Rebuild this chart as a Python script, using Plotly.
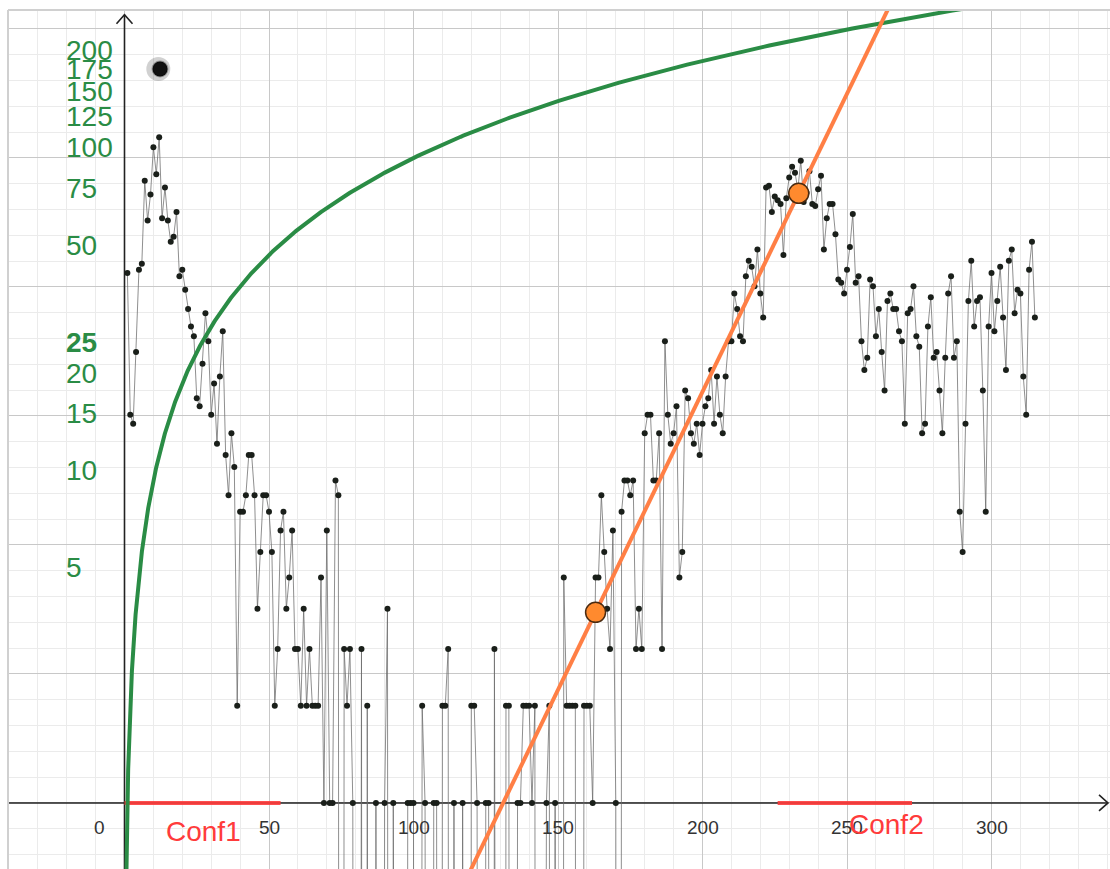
import numpy as np
import plotly.graph_objects as go

# ---------------- data ----------------
cases = [
    44, 16, 15, 25, 45, 47, 85, 64, 77, 108, 89, 116, 65, 81, 64, 55, 57, 68, 43, 45,
    39, 34, 30, 28, 18, 17, 23, 33, 27, 16, 20, 13, 21, 29, 12, 9, 14, 11, 2, 8,
    8, 9, 12, 12, 9, 4, 6, 9, 9, 8, 6, 2, 3, 7, 8, 4, 5, 7, 3, 3,
    2, 4, 2, 3, 2, 2, 2, 5, 1, 7, 1, 1, 10, 9, 0, 3, 2, 3, 1, 0,
    0, 3, 0, 2, 0, 0, 1, 0, 0, 1, 4, 0, 1, 0, 0, 0, 0, 1, 1, 1,
    0, 0, 2, 1, 0, 0, 1, 1, 0, 2, 2, 3, 0, 1, 0, 0, 1, 0, 0, 2,
    2, 1, 0, 0, 1, 1, 0, 3, 0, 0, 0, 2, 2, 0, 0, 1, 1, 2, 2, 2,
    1, 2, 0, 0, 0, 1, 2, 0, 1, 0, 0, 5, 2, 2, 2, 2, 0, 0, 2, 2,
    2, 1, 5, 5, 9, 6, 4, 3, 7, 1, 0, 8, 10, 10, 9, 10, 3, 4, 3, 14,
    16, 16, 10, 10, 14, 3, 27, 16, 13, 14, 17, 5, 6, 19, 18, 14, 13, 15, 12, 15,
    17, 18, 22, 15, 21, 16, 14, 21, 27, 27, 38, 34, 28, 27, 43, 48, 46, 40, 52, 38,
    32, 81, 82, 68, 76, 74, 72, 50, 75, 87, 94, 90, 80, 98, 73, 78, 91, 72, 71, 80,
    88, 52, 65, 72, 72, 58, 42, 41, 38, 45, 53, 67, 41, 43, 27, 22, 24, 42, 40, 28,
    34, 25, 19, 36, 38, 34, 34, 29, 27, 15, 33, 34, 40, 28, 26, 14, 15, 30, 37, 24,
    25, 19, 14, 24, 38, 43, 24, 27, 8, 6, 15, 36, 48, 30, 36, 37, 19, 8, 30, 44,
    29, 36, 46, 32, 22, 48, 52, 33, 39, 38, 21, 16, 45, 55, 32,
]
days = list(range(1, len(cases) + 1))

# y-axis labels (count values shown on the log-like scale)
ylabel_values = [200, 175, 150, 125, 100, 75, 50, 25, 20, 15, 10, 5]
xtick_values = [50, 100, 150, 200, 250, 300]

# orange fitted points (day, count)
fit_days = [163.0, 233.3]
fit_counts = [3.9, 77.7]

# confinement periods (day start, day end)
conf_names = ["Conf1", "Conf2"]
conf_start = [0, 226]
conf_end = [54, 272.5]

# slider point
slider_x = [12.3]
slider_u = [5.69]

SCALE = 2.5  # y = 2.5*log10(count)


def to_u(v):
    v = np.asarray(v, dtype=float)
    out = np.full(v.shape, -30.0)
    pos = v > 0
    out[pos] = SCALE * np.log10(v[pos])
    return out


X0, X1 = -40.31, 341.0
Y0, Y1 = -0.512, 6.147

fig = go.Figure()

GREEN = "#2a8c45"
ORANGE = "#ff7f45"
RED = "#ff3b3b"

# axes (as traces)
fig.add_trace(go.Scatter(x=[X0, 340.3], y=[0, 0], mode="lines",
                         line=dict(color="#222", width=1.6), hoverinfo="skip", showlegend=False))
fig.add_trace(go.Scatter(x=[337.2, 340.3, 337.2], y=[0.062, 0, -0.062], mode="lines",
                         line=dict(color="#222", width=1.6), hoverinfo="skip", showlegend=False))
fig.add_trace(go.Scatter(x=[0, 0], y=[Y0, 6.11], mode="lines",
                         line=dict(color="#222", width=1.6), hoverinfo="skip", showlegend=False))
fig.add_trace(go.Scatter(x=[-2.77, 0, 2.77], y=[6.04, 6.11, 6.04], mode="lines",
                         line=dict(color="#222", width=1.6), hoverinfo="skip", showlegend=False))

# confinement segments
for s, e in zip(conf_start, conf_end):
    fig.add_trace(go.Scatter(x=[s, e], y=[0, 0], mode="lines",
                             line=dict(color=RED, width=4), opacity=0.9,
                             hoverinfo="skip", showlegend=False))

# data
fig.add_trace(go.Scatter(x=days, y=to_u(cases), mode="lines+markers",
                         line=dict(color="rgba(105,105,105,0.75)", width=1),
                         marker=dict(color="#1a1f1a", size=6),
                         showlegend=False))

# green log curve
gx = np.geomspace(0.004, X1, 1500)
fig.add_trace(go.Scatter(x=gx, y=SCALE * np.log10(gx), mode="lines",
                         line=dict(color=GREEN, width=4), hoverinfo="skip", showlegend=False))

# orange line through the two fit points
fu = to_u(fit_counts)
slope = (fu[1] - fu[0]) / (fit_days[1] - fit_days[0])
lx = np.array([X0, X1])
fig.add_trace(go.Scatter(x=lx, y=fu[0] + slope * (lx - fit_days[0]), mode="lines",
                         line=dict(color=ORANGE, width=4), hoverinfo="skip", showlegend=False))
fig.add_trace(go.Scatter(x=fit_days, y=fu, mode="markers",
                         marker=dict(color="#ff8a2e", size=20, line=dict(color="#4a2a10", width=1.5)),
                         showlegend=False))

# slider point (blurred)
fig.add_trace(go.Scatter(x=[slider_x[0] - 0.6], y=slider_u, mode="markers",
                         marker=dict(color="rgba(0,0,0,0.18)", size=24),
                         hoverinfo="skip", showlegend=False))
fig.add_trace(go.Scatter(x=slider_x, y=slider_u, mode="markers",
                         marker=dict(color="#111", size=15, line=dict(color="rgba(0,0,0,0.3)", width=2)),
                         hoverinfo="skip", showlegend=False))

annotations = []
for v in ylabel_values:
    txt = "<b>%d</b>" % v if v == 25 else str(v)
    annotations.append(dict(x=-20.9, y=SCALE * np.log10(v), xref="x", yref="y",
                            text=txt, showarrow=False, xanchor="left", yanchor="middle",
                            yshift=10, font=dict(family="Liberation Sans, Arial", size=28, color=GREEN)))
for v in xtick_values:
    annotations.append(dict(x=v, y=-0.194, xref="x", yref="y", text=str(v), showarrow=False,
                            xanchor="center", yanchor="middle",
                            font=dict(family="Liberation Sans, Arial", size=19, color="#333")))
annotations.append(dict(x=-8.5, y=-0.194, xref="x", yref="y", text="0", showarrow=False,
                        xanchor="center", yanchor="middle",
                        font=dict(family="Liberation Sans, Arial", size=19, color="#333")))
conf_label_x = [27.2, 263.5]
conf_label_u = [-0.225, -0.17]
for name, cx, cu in zip(conf_names, conf_label_x, conf_label_u):
    annotations.append(dict(x=cx, y=cu, xref="x", yref="y", text=name, showarrow=False,
                            xanchor="center", yanchor="middle",
                            font=dict(family="Liberation Sans, Arial", size=28, color=RED)))

lx0 = 8 / 1110
ly1 = 1 - 10 / 869
shapes = [
    dict(type="line", xref="paper", yref="paper", x0=lx0, x1=lx0, y0=0, y1=ly1,
         line=dict(color="#d0d0d0", width=2)),
    dict(type="line", xref="paper", yref="paper", x0=lx0, x1=1, y0=ly1, y1=ly1,
         line=dict(color="#d0d0d0", width=2)),
]

fig.update_layout(
    width=1110, height=869,
    margin=dict(l=0, r=0, t=0, b=0),
    paper_bgcolor="white", plot_bgcolor="white",
    showlegend=False,
    annotations=annotations,
    shapes=shapes,
    xaxis=dict(domain=[lx0, 1], range=[X0, X1], tick0=0, dtick=50, showgrid=True,
               gridcolor="#c8c8c8", gridwidth=1.4, zeroline=False, showticklabels=False,
               ticks="", showline=False,
               minor=dict(tick0=0, dtick=10, showgrid=True, gridcolor="#ebebeb", gridwidth=1)),
    yaxis=dict(domain=[0, ly1], range=[Y0, Y1], tick0=0, dtick=1, showgrid=True,
               gridcolor="#c8c8c8", gridwidth=1.4, zeroline=False, showticklabels=False,
               ticks="", showline=False,
               minor=dict(tick0=0, dtick=0.2, showgrid=True, gridcolor="#ebebeb", gridwidth=1)),
)

fig.write_html("out.html", config={"displayModeBar": False},
               post_script="document.body.style.margin='0';document.body.style.overflow='hidden';")
